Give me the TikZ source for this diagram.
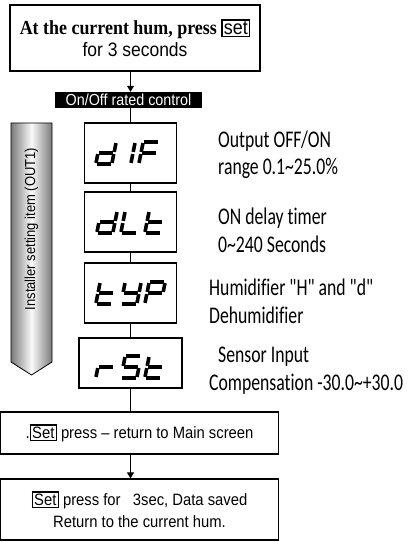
\documentclass[tikz,border=0pt]{standalone}
\usepackage{fontspec}
\usepackage{tikz}
\usetikzlibrary{arrows.meta}
\setmainfont{Liberation Sans}
\newfontfamily\narrowfont[FakeStretch=0.9]{Liberation Sans}
\newfontfamily\headfont[FakeStretch=0.9]{Liberation Serif}
\newfontfamily\descfont[FakeStretch=0.74,Ligatures=NoCommon]{Carlito}
\definecolor{cBarE}{HTML}{7A7A7A}
\definecolor{cBarM}{HTML}{FAFAFA}
\newcommand{\keycap}[1]{{\setlength{\fboxsep}{1.2bp}\setlength{\fboxrule}{1.3bp}\fbox{#1}}}
\newcommand{\lcda}{\draw[segline] (-8,-11) -- (8,-11);}
\newcommand{\lcdb}{\draw[segline] (8,-11) -- (8,0);}
\newcommand{\lcdc}{\draw[segline] (8,0) -- (8,11);}
\newcommand{\lcdd}{\draw[segline] (-8,11) -- (8,11);}
\newcommand{\lcde}{\draw[segline] (-8,0) -- (-8,11);}
\newcommand{\lcdf}{\draw[segline] (-8,-11) -- (-8,0);}
\newcommand{\lcdg}{\draw[segline] (-8,0) -- (8,0);}
\newcommand{\lcdchar}[2]{\begin{scope}[shift={#1},xslant=0.2]
  \foreach \s in {#2}{\csname lcd\s\endcsname}\end{scope}}

\begin{document}
\begin{tikzpicture}[x=1bp,y=-1bp,
  box/.style={draw,line width=1.2bp,align=center,inner sep=2bp,
    font=\narrowfont\fontsize{16.5}{22}\selectfont},
  lcdbox/.style={draw,line width=1.2bp,minimum width=92bp,minimum height=60bp,inner sep=0pt},
  desc/.style={anchor=base west,align=left,inner sep=0pt,
    font=\descfont\fontsize{24}{28}\selectfont},
  segline/.style={line width=3.6bp,shorten <=1.1bp,shorten >=1.1bp},
  link/.style={line width=1bp},
  arr/.style={line width=1bp,-{Triangle[length=6bp,width=7bp]}},
  barfill/.style={draw,line width=0.8bp,left color=cBarE,right color=cBarE,middle color=cBarM}]

  \useasboundingbox (0,0) rectangle (412,542);

  \node[box,line width=1.8bp,minimum width=250bp,minimum height=66bp] (start) at (135,38)
    {{\headfont\bfseries\fontsize{20}{24}\selectfont At the current hum, press
      \keycap{\narrowfont\mdseries set}}\\{\fontsize{19.5}{24}\selectfont for 3 seconds}};
  \node[fill=black,text=white,inner sep=0pt,minimum width=147bp,minimum height=16bp,
    font=\narrowfont\fontsize{16}{18}\selectfont] (mode) at (128.5,100) {On/Off rated control};

  \node[lcdbox] (dif) at (130.5,153) {};
  \node[lcdbox] (dlt) at (130.5,222) {};
  \node[lcdbox] (typ) at (130.5,293) {};
  \node[lcdbox,minimum width=103bp,minimum height=50bp] (rst) at (130.5,363) {};

  \lcdchar{(106,153)}{b,c,d,e,g}
  \lcdchar{(125,153)}{b,c}
  \lcdchar{(149,153)}{a,e,f,g}
  \lcdchar{(107,222)}{b,c,d,e,g}
  \lcdchar{(131,222)}{d,e,f}
  \lcdchar{(155,222)}{d,e,f,g}
  \lcdchar{(106,293)}{d,e,f,g}
  \lcdchar{(131,293)}{b,c,d,f,g}
  \lcdchar{(155,293)}{a,b,e,f,g}
  \lcdchar{(106,367)}{e,g}
  \lcdchar{(131,367)}{a,f,g,c,d}
  \lcdchar{(155,367)}{d,e,f,g}

  \node[desc] (dsc1) at (218,175) {Output OFF/ON\\range 0.1\textasciitilde25.0\%};
  \node[desc] (dsc2) at (218,252) {ON delay timer\\0\textasciitilde240 Seconds};
  \node[desc] (dsc3) at (209,323) {Humidifier "H" and "d"\\Dehumidifier};
  \node[desc] (dsc4) at (209,390) {\hspace{9bp}Sensor Input\\Compensation -30.0\textasciitilde+30.0};

  \draw[barfill] (11,123) -- (52,123) -- (52,362) -- (31.5,375) -- (11,362) -- cycle;
  \node[rotate=90,font=\narrowfont\fontsize{14.5}{16}\selectfont] (instl) at (31.5,229)
    {Installer setting item (OUT1)};

  \node[box,minimum width=277.5bp,minimum height=42bp] (ret) at (139.5,433)
    {.\keycap{Set} press \textendash{} return to Main screen};
  \node[box,minimum width=277.5bp,minimum height=61bp] (save) at (139.5,509.5)
    {\keycap{Set} press for\ \ \ 3sec, Data saved\\Return to the current hum.};

  \draw[arr] (start.south -| dif.north) -- (mode.north -| dif.north);
  \draw[link] (mode.south -| dif.north) -- (dif.north);
  \draw[link] (dif.south) -- (dlt.north);
  \draw[link] (dlt.south) -- (typ.north);
  \draw[link] (typ.south) -- (rst.north);
  \draw[link] (rst.south) -- (rst.south |- ret.north);
  \draw[arr] (ret.south -| rst.south) -- (save.north -| rst.south);
\end{tikzpicture}
\end{document}
